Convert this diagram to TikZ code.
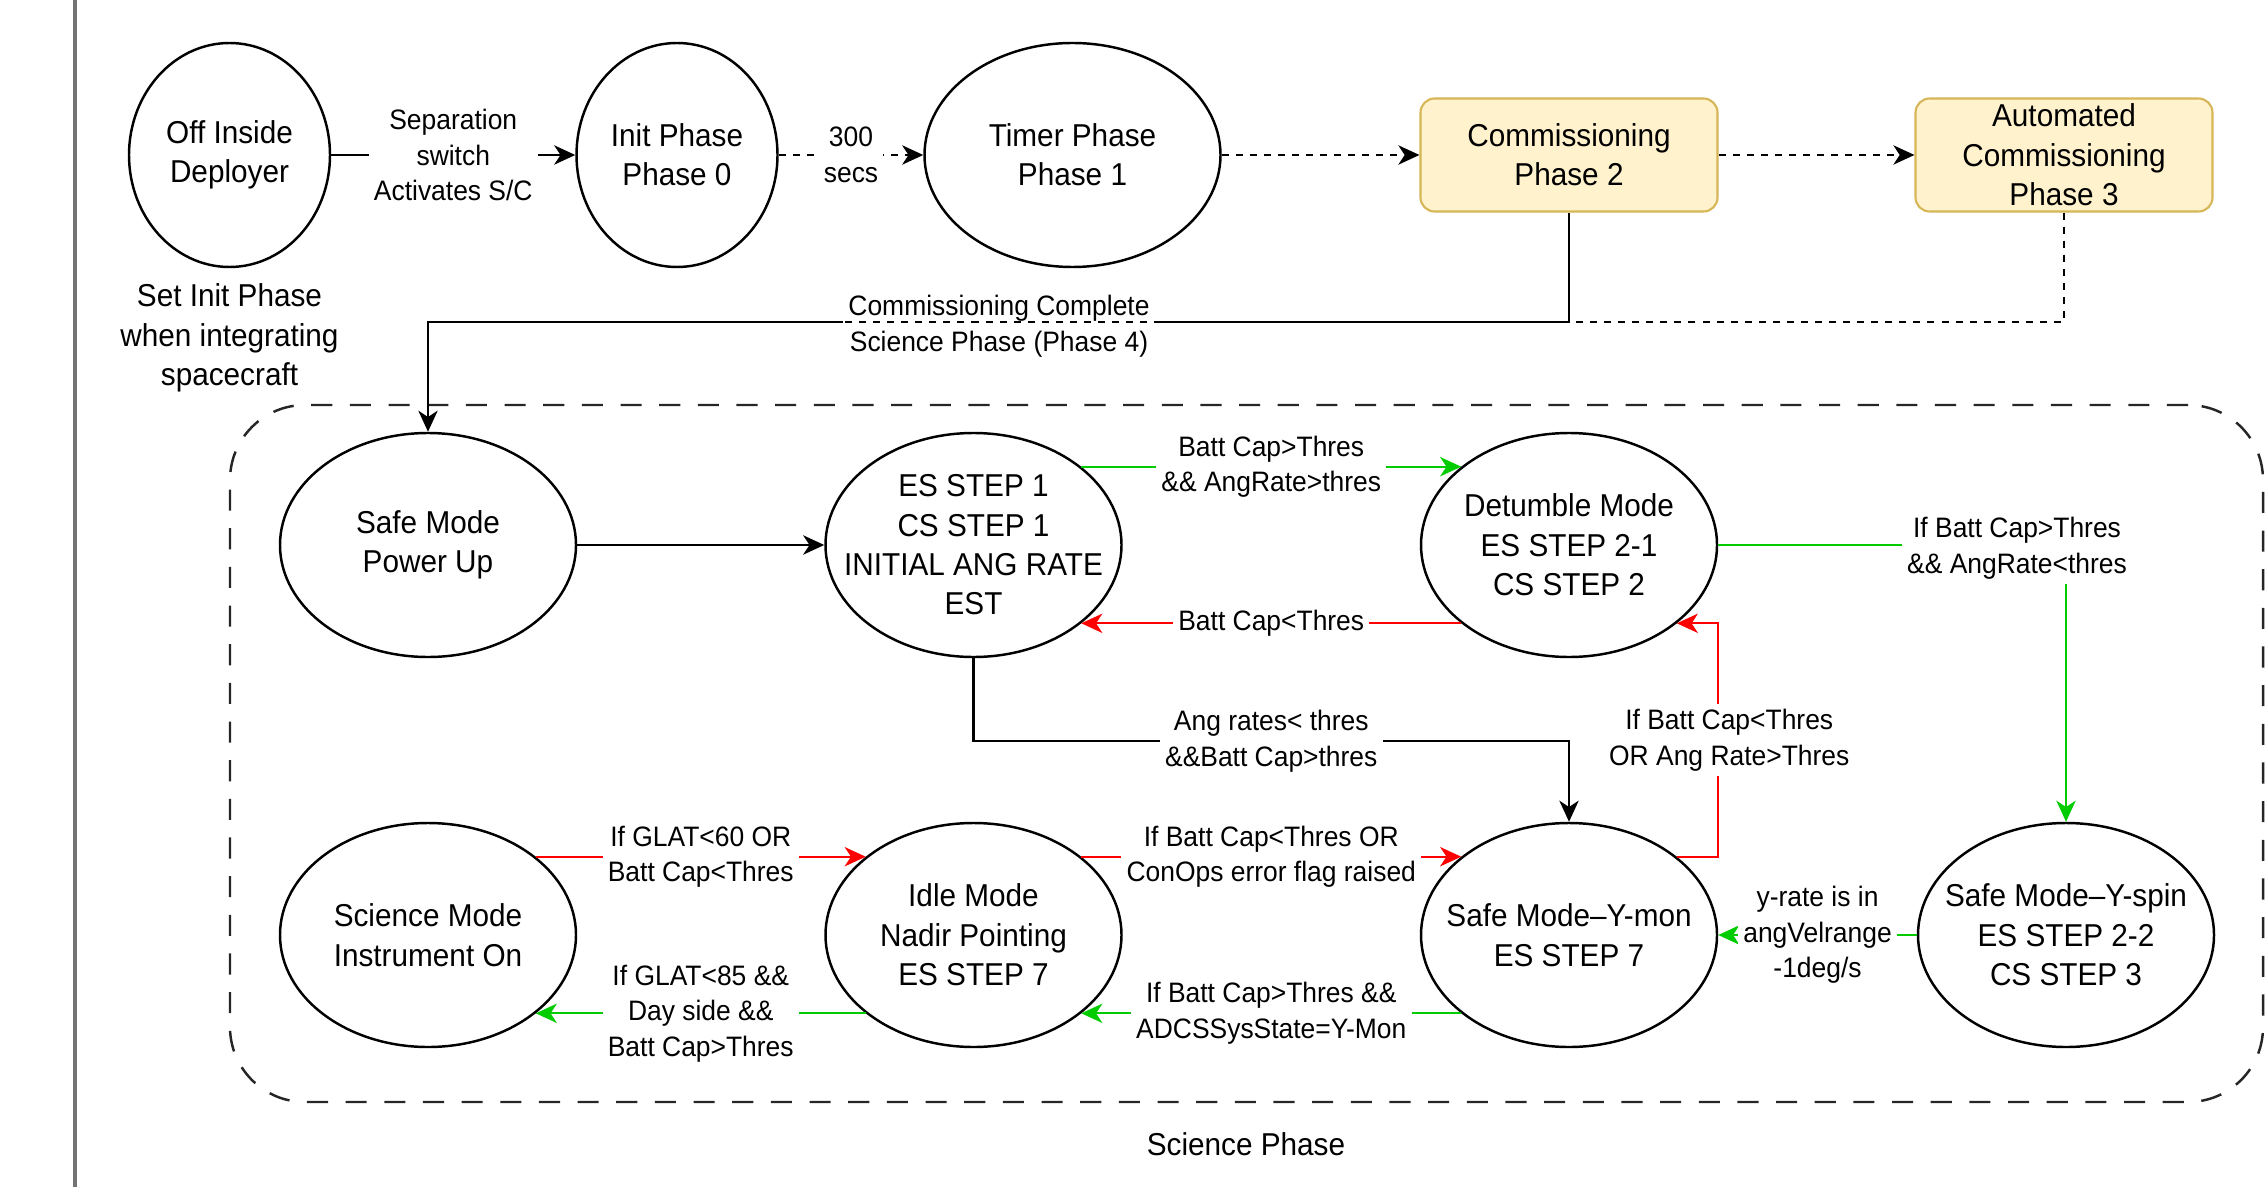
\documentclass[tikz,border=0pt]{standalone}
\usepackage{fontspec}
\setmainfont{Liberation Sans}[FakeStretch=0.94]
\usepackage{xcolor}
\usetikzlibrary{arrows.meta,positioning,calc,shapes.geometric}
\definecolor{PhaseFill}{HTML}{FFF2CC}
\definecolor{PhaseLine}{HTML}{D6B656}
\definecolor{GoGreen}{HTML}{00CC00}
\definecolor{StopRed}{HTML}{FF0000}

\begin{document}
\begin{tikzpicture}[
        >={Stealth[length=6pt,width=5.5pt,inset=1.8pt]},
        font=\fontsize{9}{11.2}\selectfont,
        state/.style={
            ellipse,
            draw=black,
            line width=0.7pt,
            align=center,
            inner sep=-3mm,
            minimum width=2.96cm,
            minimum height=2.24cm
        },
        smallstate/.style={state, minimum width=2.01cm},
        phasebox/.style={
            draw=PhaseLine,
            fill=PhaseFill,
            rounded corners=4pt,
            line width=0.6pt,
            align=center,
            inner sep=-1mm,
            minimum width=2.97cm,
            minimum height=1.13cm
        },
        lbl/.style={align=center, font=\fontsize{8}{10.1}\selectfont, inner sep=1.5pt},
        note/.style={align=center},
        arrow/.style={->, line width=0.6pt, draw=black},
        dotarrow/.style={arrow, dash pattern=on 2pt off 2pt},
        dotline/.style={line width=0.6pt, dash pattern=on 2pt off 2pt},
        greenarrow/.style={arrow, draw=GoGreen},
        redarrow/.style={arrow, draw=StopRed},
        region/.style={
            draw=black!85,
            line width=0.7pt,
            dash pattern=on 6pt off 5pt,
            rounded corners=0.75cm,
            inner sep=0pt
        }
    ]
        \useasboundingbox (0,0) rectangle (22.67,-11.87);
        \draw[black!55, line width=0.9pt] (0.75,0) -- (0.75,-11.87);

        % launch and commissioning phases
        \node[smallstate] (off) at (2.295,-1.55) {Off Inside\\Deployer};
        \node[smallstate] (init) at (6.77,-1.55) {Init Phase\\Phase 0};
        \node[state] (timer) at (10.725,-1.55) {Timer Phase\\Phase 1};
        \node[phasebox] (comm) at (15.69,-1.55) {Commissioning\\Phase 2};
        \node[phasebox] (autocomm) at (20.64,-1.55) {Automated\\Commissioning\\Phase 3};
        \node[note] (setinit) at (2.295,-3.38) {Set Init Phase\\when integrating\\spacecraft};

        % science phase
        \node[region, minimum width=20.33cm, minimum height=6.97cm] (sciregion) at (12.465,-7.535) {};
        \node[note] (scilbl) at (12.46,-11.44) {Science Phase};

        \node[state] (safeup) at (4.28,-5.45) {Safe Mode\\Power Up};
        \node[state] (es1) at (9.735,-5.45) {ES STEP 1\\CS STEP 1\\INITIAL ANG RATE\\EST};
        \node[state] (detumble) at (15.69,-5.45) {Detumble Mode\\ES STEP 2-1\\CS STEP 2};
        \node[state] (science) at (4.28,-9.35) {Science Mode\\Instrument On};
        \node[state] (idle) at (9.735,-9.35) {Idle Mode\\Nadir Pointing\\ES STEP 7};
        \node[state] (ymon) at (15.69,-9.35) {Safe Mode–Y-mon\\ES STEP 7};
        \node[state] (yspin) at (20.66,-9.35) {Safe Mode–Y-spin\\ES STEP 2-2\\CS STEP 3};

        \coordinate (join) at (4.28,-3.22);

        \draw[arrow] (off) -- node[lbl, fill=white] {Separation\\switch\\Activates S/C} (init);
        \draw[dotarrow] (init) -- node[lbl, fill=white] {300\\secs} (timer);
        \draw[dotarrow] (timer) -- (comm);
        \draw[dotarrow] (comm) -- (autocomm);
        \draw[arrow] (comm.south) |- (join) -- (safeup.north);
        \node[lbl, fill=white] (complete) at (9.99,-3.26) {Commissioning Complete\\Science Phase (Phase 4)};
        \draw[dotline] (autocomm.south) |- (join) -- (safeup.north);

        \draw[arrow] (safeup) -- (es1);
        \draw[greenarrow] (es1.36) -- node[lbl, fill=white] {Batt Cap>Thres\\\&\& AngRate>thres} (detumble.144);
        \draw[redarrow] (detumble.-144) -- node[lbl, fill=white] {Batt Cap<Thres} (es1.-36);
        \draw[greenarrow] (detumble) -| node[lbl, fill=white, pos=0.5, xshift=-0.49cm, yshift=-0.03cm] {If Batt Cap>Thres\\\&\& AngRate<thres} (yspin);
        \draw[arrow] (es1.south) -- ++(0,-0.83) -| node[lbl, fill=white, pos=0.25] {Ang rates< thres\\\&\&Batt Cap>thres} (ymon.north);
        \draw[redarrow] (ymon.36) -| node[lbl, fill=white, pos=0.75, xshift=0.11cm] {If Batt Cap<Thres\\OR Ang Rate>Thres} (detumble.east |- detumble.-36) -- (detumble.-36);
        \draw[redarrow] (idle.36) -- node[lbl, fill=white] {If Batt Cap<Thres OR\\ConOps error flag raised} (ymon.144);
        \draw[greenarrow] (ymon.-144) -- node[lbl, fill=white] {If Batt Cap>Thres \&\&\\ADCSSysState=Y-Mon} (idle.-36);
        \draw[greenarrow] (yspin) -- node[lbl, fill=white] {y-rate is in\\angVelrange\\-1deg/s} (ymon);
        \draw[redarrow] (science.36) -- node[lbl, fill=white] {If GLAT<60 OR\\Batt Cap<Thres} (idle.144);
        \draw[greenarrow] (idle.-144) -- node[lbl, fill=white] {If GLAT<85 \&\&\\Day side \&\&\\Batt Cap>Thres} (science.-36);
\end{tikzpicture}
\end{document}
